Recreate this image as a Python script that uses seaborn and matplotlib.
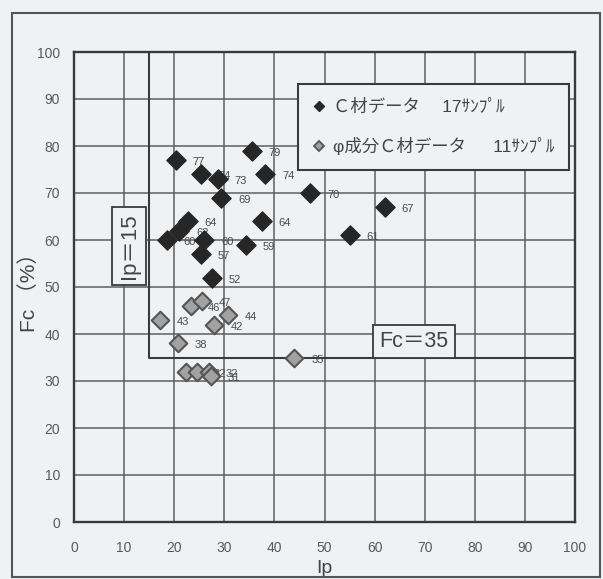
import matplotlib
matplotlib.use("Agg")
import matplotlib.pyplot as plt
import seaborn as sns
from matplotlib import font_manager
from matplotlib.patches import Rectangle
from matplotlib.lines import Line2D

# C材データ (17 samples): plasticity index Ip and fines content Fc (%)
c_ip = [20.3, 35.5, 25.4, 28.7, 38.2, 29.4, 47.2, 37.5, 22.7, 21.0, 18.6, 26.0, 34.4, 25.4, 27.5, 62.0, 55.1]
c_fc = [77, 79, 74, 73, 74, 69, 70, 64, 64, 62, 60, 60, 59, 57, 52, 67, 61]

# φ成分C材データ (11 samples)
phi_ip = [17.2, 23.4, 25.5, 30.7, 28.0, 20.7, 44.0, 22.3, 24.5, 26.9, 27.3]
phi_fc = [43, 46, 47, 44, 42, 38, 35, 32, 32, 32, 31]

series_names = ["Ｃ材データ　 17ｻﾝﾌﾟﾙ", "φ成分Ｃ材データ　  11ｻﾝﾌﾟﾙ"]

# screening limits
ip_limit = 15
fc_limit = 35

ticks = list(range(0, 101, 10))

bg = "#f0f1f3"
ink = "#3a3a3a"

sns.set_theme(style="white")
fams = {f.name for f in font_manager.fontManager.ttflist}
narrow = "Liberation Sans Narrow" if "Liberation Sans Narrow" in fams else "Liberation Sans"
plt.rcParams["font.family"] = ["Liberation Sans", "Noto Sans CJK JP", "DejaVu Sans"]

fig = plt.figure(figsize=(6.03, 5.79), dpi=100, facecolor=bg)
ax = fig.add_axes([74 / 603, 1 - 522 / 579, 501 / 603, 470 / 579])
ax.set_facecolor(bg)

ax.set_xlim(0, 100)
ax.set_ylim(0, 100)
ax.set_xticks(ticks)
ax.set_yticks(ticks)
ax.grid(True, color="#5e5e5e", linewidth=1.1)
ax.set_axisbelow(True)
for sp in ax.spines.values():
    sp.set_visible(True)
    sp.set_color(ink)
    sp.set_linewidth(1.7)
ax.tick_params(axis="both", length=0, labelsize=10, labelcolor="#5a5a5a")
ax.tick_params(axis="x", pad=14)
ax.tick_params(axis="y", pad=10)
for lab in ax.get_xticklabels() + ax.get_yticklabels():
    lab.set_family(narrow)

# screening boundary Ip >= 15, Fc >= 35
ax.plot([ip_limit, ip_limit, 100], [100, fc_limit, fc_limit], color=ink, linewidth=1.5, zorder=2)

sns.scatterplot(x=c_ip, y=c_fc, marker="D", s=95, color="#262626", edgecolor="#262626",
                linewidth=1.0, zorder=5, ax=ax, label=series_names[0])
sns.scatterplot(x=phi_ip, y=phi_fc, marker="D", s=80, color="#a2a2a2", edgecolor="#555555",
                linewidth=1.5, zorder=5, ax=ax, label=series_names[1])

for xs, ys in ((c_ip, c_fc), (phi_ip, phi_fc)):
    for x, y in zip(xs, ys):
        ax.annotate(f"{y}", (x, y), xytext=(12, -1.5), textcoords="offset points",
                    ha="left", va="center", fontsize=8, color="#4a4a4a",
                    family=narrow, zorder=4)

handles = [
    Line2D([], [], marker="D", linestyle="none", markersize=5.5, color="#262626"),
    Line2D([], [], marker="D", linestyle="none", markersize=5.5, markerfacecolor="#a2a2a2",
           markeredgecolor="#555555", markeredgewidth=1.3),
]
leg = ax.legend(handles, series_names, loc="upper left", mode="expand",
                bbox_to_anchor=(0.447, 0.762, 0.541, 0.17), borderaxespad=0,
                fontsize=12.5, labelspacing=1.3, borderpad=0.85, handlelength=0.7,
                handletextpad=0.45, fancybox=False, framealpha=1, facecolor=bg,
                edgecolor=ink)
leg.get_frame().set_linewidth(1.5)
leg.set_zorder(6)
for t in leg.get_texts():
    t.set_color("#444444")

ax.text(11, 58.7, "Ip＝15", rotation=90, ha="center", va="center", fontsize=16,
        color="#444444", zorder=6,
        bbox=dict(boxstyle="square,pad=0.28", fc=bg, ec=ink, lw=1.3))
ax.text(67.8, 38.4, "Fc＝35", ha="center", va="center", fontsize=15.5,
        color="#444444", zorder=6,
        bbox=dict(boxstyle="square,pad=0.3", fc=bg, ec=ink, lw=1.3))

ax.set_xlabel("Ip", fontsize=14, color="#444444", labelpad=3)
ax.set_ylabel("Fc （%）", fontsize=15, color="#444444", labelpad=-1.5)

fig.add_artist(Rectangle((12 / 603, 2 / 579), 588 / 603, 564 / 579, transform=fig.transFigure,
                         fill=False, edgecolor="#555555", linewidth=1.5))

fig.savefig("out.png", dpi=100, facecolor=bg)
